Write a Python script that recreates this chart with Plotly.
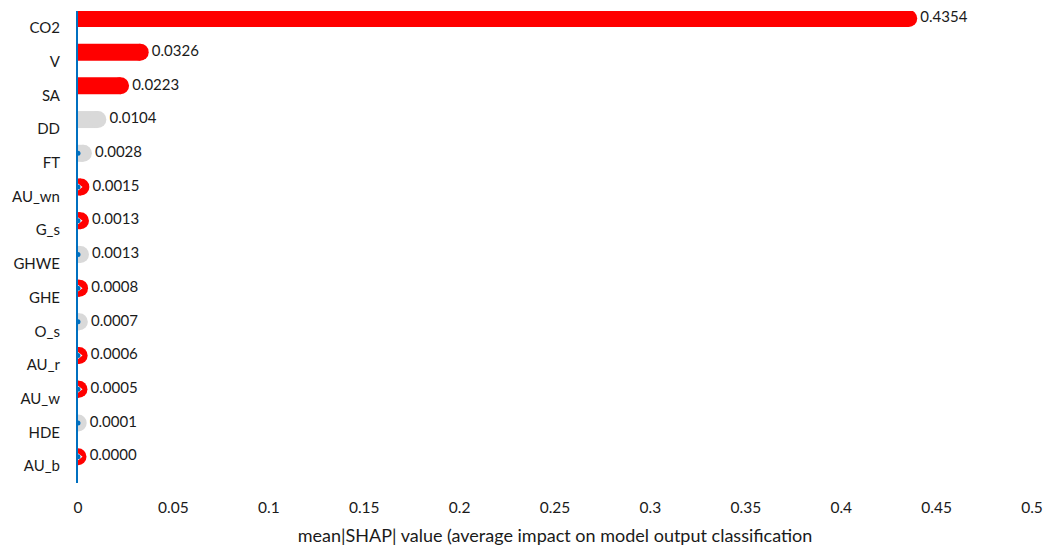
import plotly.graph_objects as go

features = ["CO2", "V", "SA", "DD", "FT", "AU_wn", "G_s", "GHWE", "GHE", "O_s", "AU_r", "AU_w", "HDE", "AU_b"]
values = [0.4354, 0.0326, 0.0223, 0.0104, 0.0028, 0.0015, 0.0013, 0.0013, 0.0008, 0.0007, 0.0006, 0.0005, 0.0001, 0.0000]
colors = ["#FF0000", "#FF0000", "#FF0000", "#D9D9D9", "#D9D9D9", "#FF0000", "#FF0000", "#D9D9D9",
          "#FF0000", "#D9D9D9", "#FF0000", "#FF0000", "#D9D9D9", "#FF0000"]
xticks = [0, 0.05, 0.1, 0.15, 0.2, 0.25, 0.3, 0.35, 0.4, 0.45, 0.5]
xtick_text = ["0", "0.05", "0.1", "0.15", "0.2", "0.25", "0.3", "0.35", "0.4", "0.45", "0.5"]

FONT = "Lato, 'Open Sans', sans-serif"
BAR_W = 17
OFFSET = 0.28
AXIS_BLUE = "#0070C0"

fig = go.Figure()
for k, (f, v, c) in enumerate(zip(features, values, colors)):
    yb = k - OFFSET
    fig.add_trace(go.Scatter(
        x=[0, v], y=[yb, yb], mode="lines",
        line=dict(color=c, width=BAR_W), hoverinfo="skip", showlegend=False,
    ))
    fig.add_trace(go.Scatter(
        x=[v], y=[yb], mode="markers",
        marker=dict(color=c, size=BAR_W, line=dict(width=0)),
        cliponaxis=True, showlegend=False, name=f,
    ))
    if v < 0.002 and c == "#FF0000":
        fig.add_trace(go.Scatter(
            x=[0], y=[yb], mode="markers",
            marker=dict(color="white", size=9, symbol="triangle-right", line=dict(width=0)),
            cliponaxis=True, hoverinfo="skip", showlegend=False,
        ))
    if v < 0.003:
        fig.add_trace(go.Scatter(
            x=[0], y=[yb], mode="markers",
            marker=dict(color=AXIS_BLUE, size=5, line=dict(width=0)),
            cliponaxis=True, hoverinfo="skip", showlegend=False,
        ))
    fig.add_trace(go.Scatter(
        x=[v], y=[yb], mode="markers+text",
        marker=dict(color="rgba(0,0,0,0)", size=BAR_W, line=dict(width=0)),
        text=[f"{v:.4f}"], textposition="middle right",
        textfont=dict(family=FONT, size=15, color="#1a1a1a"),
        cliponaxis=False, hoverinfo="skip", showlegend=False,
    ))

fig.update_layout(
    width=1059, height=547,
    margin=dict(l=78, r=27, t=11, b=64),
    plot_bgcolor="white", paper_bgcolor="white",
    font=dict(family=FONT, size=15, color="#1a1a1a"),
    xaxis=dict(
        range=[0, 0.5], tickvals=xticks, ticktext=xtick_text,
        showgrid=False, zeroline=False, showline=False, ticks="",
        ticklabelstandoff=13, automargin=False,
        tickfont=dict(size=15.5),
        title=dict(text="mean|SHAP| value (average impact on model output classification",
                   font=dict(size=18), standoff=14),
    ),
    yaxis=dict(
        range=[13.5, -0.5], tickvals=list(range(len(features))), ticktext=features,
        showgrid=False, zeroline=False, showline=True, linecolor=AXIS_BLUE, linewidth=2,
        ticks="", ticklabelstandoff=13, automargin=False,
    ),
)

fig.write_html("out.html", post_script="document.body.style.margin='0';",
               config={"displayModeBar": False})
